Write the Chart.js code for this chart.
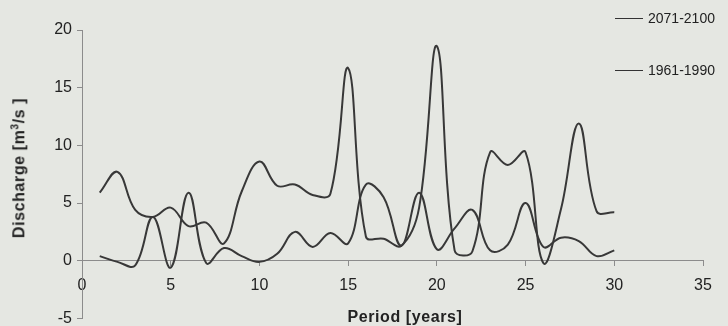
<!DOCTYPE html>
<html>
<head>
<meta charset="utf-8">
<script src="https://cdn.jsdelivr.net/npm/chart.js@4.4.4/dist/chart.umd.min.js"></script>
<style>
  html, body { margin: 0; padding: 0; background: #e5e7e2; overflow: hidden; }
  #wrap { position: relative; width: 728px; height: 326px; overflow: hidden; font-family: "Liberation Sans", Arial, sans-serif; color: #222; }
  #chart { position: absolute; left: 0; top: 0; }
  .ytitle { position: absolute; left: 19px; top: 168px; transform: translate(-50%, -50%) rotate(-90deg); font-weight: bold; font-size: 16px; letter-spacing: 0.6px; white-space: nowrap; }
  .ytitle sup { font-size: 10px; }
  .xtitle { position: absolute; left: 405px; top: 317px; transform: translate(-50%, -50%); font-weight: bold; font-size: 16px; letter-spacing: 0.6px; white-space: nowrap; }
  .leg { position: absolute; left: 615px; height: 16px; display: flex; align-items: center; font-size: 14px; white-space: nowrap; }
  .leg i { display: inline-block; width: 28px; height: 0; border-top: 1.5px solid #333; margin-right: 5px; }
</style>
</head>
<body>
<div id="wrap">
  <!-- canvas is a bit taller than the window so the -5 line lands at the very bottom -->
  <canvas id="chart" width="728" height="333"></canvas>
  <div class="ytitle">Discharge [m<sup>3</sup>/s ]</div>
  <div class="xtitle">Period [years]</div>
  <div class="leg" style="top:10px"><i></i>2071-2100</div>
  <div class="leg" style="top:62px"><i></i>1961-1990</div>
</div>
<script>
// years along the x axis
const years = [1, 2, 3, 4, 5, 6, 7, 8, 9, 10, 11, 12, 13, 14, 15,
  16, 17, 18, 19, 20, 21, 22, 23, 24, 25, 26, 27, 28, 29, 30];

// discharge [m3/s]
const future = [5.9, 7.7, 4.4, 3.8, 4.6, 3.0, 3.3, 1.5, 6.0, 8.6, 6.5, 6.6, 5.7, 5.8, 16.7,
  2.1, 1.9, 1.3, 4.6, 18.6, 0.9, 0.8, 9.4, 8.3, 9.4, -0.2, 4.5, 11.9, 4.3, 4.2];
const baseline = [0.4, -0.1, -0.4, 3.8, -0.6, 5.9, -0.2, 1.1, 0.4, -0.1, 0.6, 2.5, 1.2, 2.4, 1.5,
  6.6, 5.5, 1.3, 5.9, 1.0, 2.8, 4.4, 0.9, 1.4, 5.0, 1.2, 2.0, 1.7, 0.4, 0.9];

const seriesNames = ['2071-2100', '1961-1990'];
const xTicks = { min: 0, max: 35, step: 5 };
const yTicks = { min: -5, max: 20, step: 5 };

const axisColor = '#8c8c8c';
const lineColor = '#383838';
const tickFont = { family: '"Liberation Sans", Arial, sans-serif', size: 16 };

const toPoints = (vals) => years.map((x, i) => ({ x, y: vals[i] }));

new Chart(document.getElementById('chart'), {
  type: 'line',
  data: {
    datasets: [
      { label: seriesNames[0], data: toPoints(future) },
      { label: seriesNames[1], data: toPoints(baseline) },
    ],
  },
  options: {
    responsive: false,
    animation: false,
    devicePixelRatio: 1,
    layout: { padding: { top: 30, right: 25, bottom: 0, left: 0 } },
    elements: {
      point: { radius: 0 },
      line: { borderColor: lineColor, borderWidth: 2, tension: 0.4, fill: false },
    },
    plugins: { legend: { display: false }, tooltip: { enabled: false } },
    scales: {
      x: {
        type: 'linear',
        min: xTicks.min,
        max: xTicks.max,
        position: { y: 0 },
        afterFit: (s) => { s.height = 0; },
        grid: { drawOnChartArea: false, drawTicks: true, tickLength: 5, color: axisColor },
        border: { color: axisColor, width: 1 },
        ticks: { stepSize: xTicks.step, color: '#222', font: tickFont, padding: 10, maxRotation: 0 },
      },
      y: {
        min: yTicks.min,
        max: yTicks.max,
        afterFit: (s) => { s.width = 82; },
        grid: { drawOnChartArea: false, drawTicks: true, tickLength: 5, color: axisColor },
        border: { color: axisColor, width: 1 },
        ticks: { stepSize: yTicks.step, color: '#222', font: tickFont, padding: 5 },
      },
    },
  },
});
</script>
</body>
</html>
